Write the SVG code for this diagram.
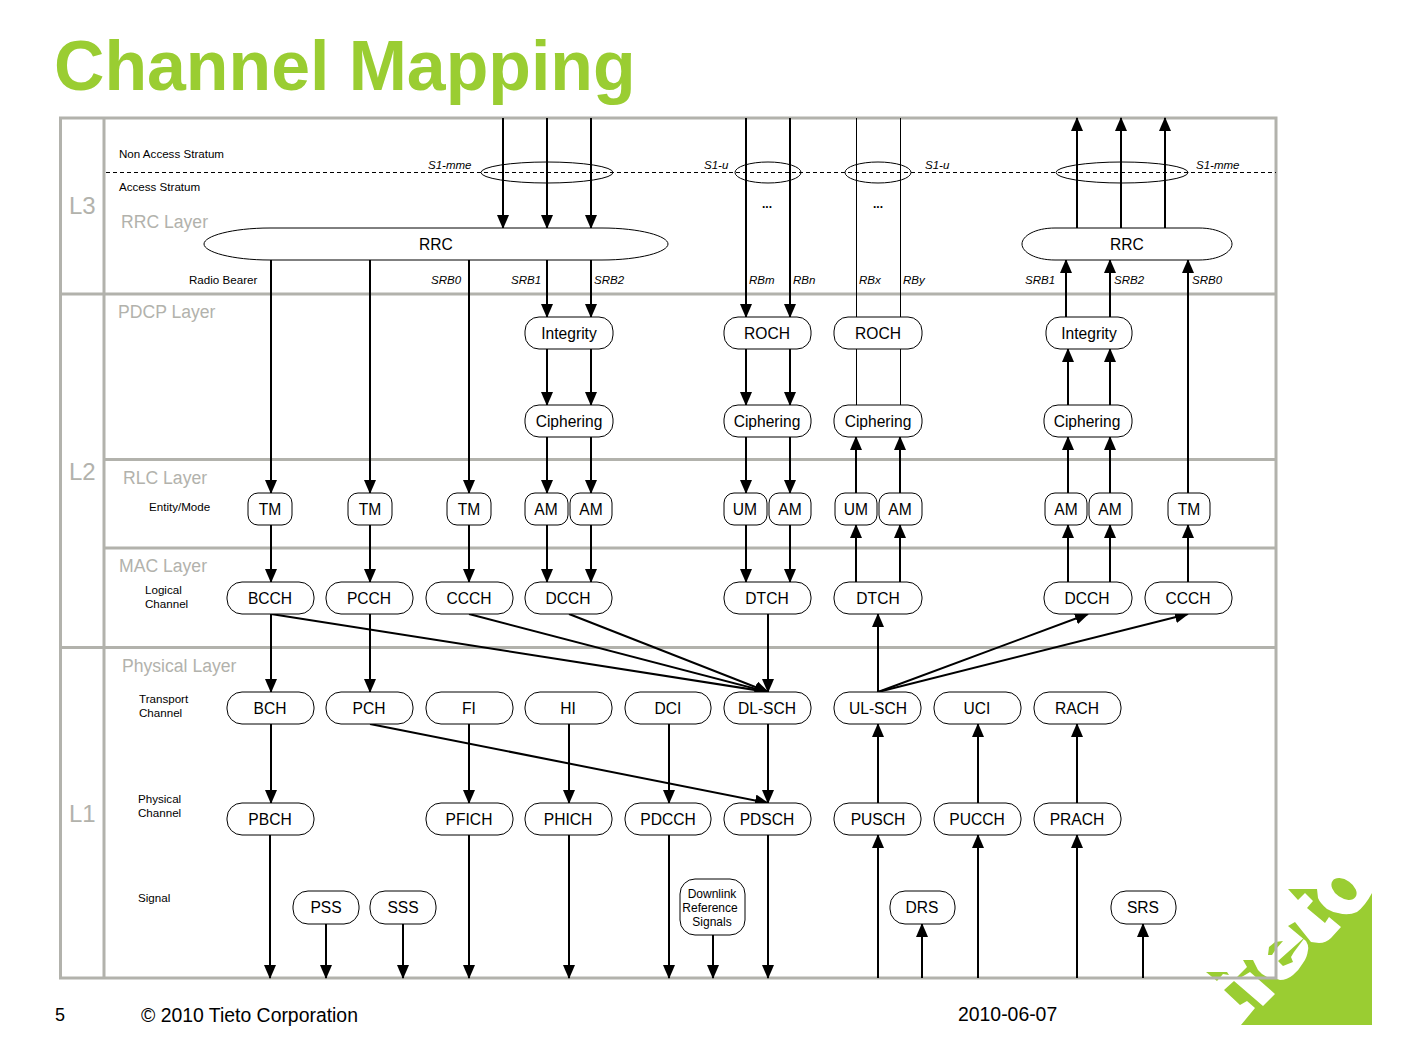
<svg xmlns="http://www.w3.org/2000/svg" width="1403" height="1052" viewBox="0 0 1403 1052">
<style>
text{font-family:"Liberation Sans",Arial,sans-serif;fill:#000}
.n rect,.n path{fill:#fff;stroke:#000;stroke-width:1}
.n text{font-size:15.6px;text-anchor:middle}
.n text.m{font-size:12px}
.f{fill:none;stroke:#b2b2ac;stroke-width:3}
.a{fill:none;stroke:#000;stroke-width:2;marker-end:url(#h)}
.t{fill:none;stroke:#000;stroke-width:1}
.d{fill:none;stroke:#000;stroke-width:1;stroke-dasharray:4 3}
.o{fill:none;stroke:#000;stroke-width:1}
.g{fill:#b2b2ac;font-size:17.6px}
.L{fill:#b2b2ac;font-size:24px}
.s{font-size:11.6px}
.i{font-size:11.500px;font-style:italic}
.c{fill:#9acd32}
.fo{font-size:19.4px}
</style>
<defs>
<marker id="h" markerUnits="userSpaceOnUse" viewBox="0 0 14 12" markerWidth="14" markerHeight="12" refX="13" refY="6" orient="auto"><path d="M0,0L14,6L0,12Z" fill="#000"/></marker>
</defs>
<text x="54" y="90" font-size="69.800" font-weight="700" style="fill:#9acd32">Channel Mapping</text>
<g id="logo" class="c">
<path d="M1241,1025L1372,1025L1372,893Q1365,906 1357,912Q1348,916 1338,913Q1332,912 1327,909Q1320,903 1318,898L1317,889L1288,889L1298,900L1305,893L1313,901L1307,908L1325,923L1329,917L1341,927L1331,938Q1326,943 1319,943L1311,942L1295,922L1288,926L1306,941Q1309,946 1308,950Q1307,958 1303,963Q1299,970 1293,975Q1287,980 1280,980L1277,979Q1272,979 1267,977Q1262,975 1258,970L1253,960L1243,960L1247,967L1237,977L1240,978L1250,972L1275,994L1263,1006L1234,981L1224,990L1240,1005L1247,1001L1255,1008Z"/>
<path d="M1206,972L1227,972L1229,975L1223,974L1217,981Z"/>
<path d="M1278,961L1306,936L1294,952L1291,957L1293,962L1283,966Z"/>
<path d="M1268,955L1269,947L1275,942L1283,941L1276,949L1272,955Z"/>
<ellipse cx="1344" cy="889" rx="14" ry="9" transform="rotate(35 1344 889)"/>
</g>
<g id="frame">
<rect class="f" x="60.5" y="118" width="1215.5" height="860"/>
<path class="f" d="M104,118V978M60,294H1276M104,459.500H1276M104,548H1276M60,647.500H1276"/>
<path class="d" d="M106,172.500H1276"/>
<text class="L" x="69" y="214">L3</text>
<text class="L" x="69" y="480">L2</text>
<text class="L" x="69" y="822">L1</text>
<text class="g" x="121" y="228">RRC Layer</text>
<text class="g" x="118" y="318">PDCP Layer</text>
<text class="g" x="123" y="484">RLC Layer</text>
<text class="g" x="119" y="572">MAC Layer</text>
<text class="g" x="122" y="672">Physical Layer</text>
<text class="s" x="119" y="158">Non Access Stratum</text>
<text class="s" x="119" y="191">Access Stratum</text>
<text class="s" x="189" y="284">Radio Bearer</text>
<text class="s" x="149" y="511">Entity/Mode</text>
<text class="s" x="145" y="594">Logical</text>
<text class="s" x="145" y="608">Channel</text>
<text class="s" x="139" y="703">Transport</text>
<text class="s" x="139" y="717">Channel</text>
<text class="s" x="138" y="803">Physical</text>
<text class="s" x="138" y="817">Channel</text>
<text class="s" x="138" y="902">Signal</text>
<text class="i" x="428" y="169">S1-mme</text>
<text class="i" x="704" y="169">S1-u</text>
<text class="i" x="925" y="169">S1-u</text>
<text class="i" x="1196" y="169">S1-mme</text>
<text class="i" x="431" y="284">SRB0</text>
<text class="i" x="511" y="284">SRB1</text>
<text class="i" x="594" y="284">SRB2</text>
<text class="i" x="749" y="284">RBm</text>
<text class="i" x="793" y="284">RBn</text>
<text class="i" x="859" y="284">RBx</text>
<text class="i" x="903" y="284">RBy</text>
<text class="i" x="1025" y="284">SRB1</text>
<text class="i" x="1114" y="284">SRB2</text>
<text class="i" x="1192" y="284">SRB0</text>
<text x="762" y="208" font-size="12" font-weight="700">...</text>
<text x="873" y="208" font-size="12" font-weight="700">...</text>
</g>
<g id="connectors">
<ellipse class="o" cx="547" cy="172.500" rx="66" ry="10.500"/>
<ellipse class="o" cx="768" cy="172.500" rx="33" ry="10.500"/>
<ellipse class="o" cx="878" cy="172.500" rx="33" ry="10.500"/>
<ellipse class="o" cx="1122" cy="172.500" rx="66" ry="10.500"/>
<path class="a" d="M503,118V228"/><path class="a" d="M547,118V228"/><path class="a" d="M591,118V228"/>
<path class="a" d="M271,260V493"/><path class="a" d="M370,260V493"/><path class="a" d="M469,260V493"/>
<path class="a" d="M547,260V317"/><path class="a" d="M591,260V317"/>
<path class="a" d="M547,349V405"/><path class="a" d="M591,349V405"/>
<path class="a" d="M547,437V493"/><path class="a" d="M591,437V493"/>
<path class="a" d="M547,525V582"/><path class="a" d="M591,525V582"/>
<path class="a" d="M746,118V317"/><path class="a" d="M790,118V317"/>
<path class="a" d="M746,349V405"/><path class="a" d="M790,349V405"/>
<path class="a" d="M746,437V493"/><path class="a" d="M790,437V493"/>
<path class="a" d="M746,525V582"/><path class="a" d="M790,525V582"/>
<path class="t" d="M856.500,118V317M900.500,118V317M856.500,349V405M900.500,349V405"/>
<path class="a" d="M856,493V437"/><path class="a" d="M900,493V437"/>
<path class="a" d="M856,582V525"/><path class="a" d="M900,582V525"/>
<path class="a" d="M1077,228V118"/><path class="a" d="M1121,228V118"/><path class="a" d="M1165,228V118"/>
<path class="a" d="M1066,317V260"/><path class="a" d="M1110,317V260"/><path class="a" d="M1188,493V260"/>
<path class="a" d="M1068,405V349"/><path class="a" d="M1110,405V349"/>
<path class="a" d="M1068,493V437"/><path class="a" d="M1110,493V437"/>
<path class="a" d="M1068,582V525"/><path class="a" d="M1110,582V525"/><path class="a" d="M1188,582V525"/>
<path class="a" d="M271,525V582"/><path class="a" d="M370,525V582"/><path class="a" d="M469,525V582"/>
<path class="a" d="M271,614V692"/><path class="a" d="M370,614V692"/><path class="a" d="M768,614V692"/>
<path class="a" d="M271,614L768,692"/><path class="a" d="M469,614L768,692"/><path class="a" d="M569,614L768,692"/>
<path class="a" d="M878,692V614"/><path class="a" d="M878,692L1088,614"/><path class="a" d="M878,692L1188,614"/>
<path class="a" d="M271,724V803"/><path class="a" d="M469,724V803"/><path class="a" d="M569,724V803"/><path class="a" d="M669,724V803"/><path class="a" d="M768,724V803"/>
<path class="a" d="M370,724L768,803"/>
<path class="a" d="M878,803V724"/><path class="a" d="M978,803V724"/><path class="a" d="M1077,803V724"/>
<path class="a" d="M270,835V978"/><path class="a" d="M469,835V978"/><path class="a" d="M569,835V978"/><path class="a" d="M669,835V978"/><path class="a" d="M768,835V978"/>
<path class="a" d="M326,924V978"/><path class="a" d="M403,924V978"/><path class="a" d="M713,935V978"/>
<path class="a" d="M878,978V835"/><path class="a" d="M978,978V835"/><path class="a" d="M1077,978V835"/>
<path class="a" d="M922,978V924"/><path class="a" d="M1143,978V924"/>
</g>
<g id="rrc1" class="n"><path d="M270,228H602C640,228 668,236 668,244C668,252 640,260 602,260H270C232,260 204,252 204,244C204,236 232,228 270,228Z"/><text x="436" y="250">RRC</text></g>
<g id="rrc2" class="n"><path d="M1055,228H1199C1219,228 1232,236 1232,244C1232,252 1219,260 1199,260H1055C1035,260 1022,252 1022,244C1022,236 1035,228 1055,228Z"/><text x="1127" y="250">RRC</text></g>
<g id="integrity1" class="n"><rect x="525" y="317" width="88" height="32" rx="14"/><text x="569" y="339">Integrity</text></g>
<g id="roch1" class="n"><rect x="724" y="317" width="87" height="32" rx="14"/><text x="767" y="339">ROCH</text></g>
<g id="roch2" class="n"><rect x="834" y="317" width="88" height="32" rx="14"/><text x="878" y="339">ROCH</text></g>
<g id="integrity2" class="n"><rect x="1046" y="317" width="86" height="32" rx="14"/><text x="1089" y="339">Integrity</text></g>
<g id="ciph1" class="n"><rect x="525" y="405" width="88" height="32" rx="14"/><text x="569" y="427">Ciphering</text></g>
<g id="ciph2" class="n"><rect x="724" y="405" width="87" height="32" rx="14"/><text x="767" y="427">Ciphering</text></g>
<g id="ciph3" class="n"><rect x="834" y="405" width="88" height="32" rx="14"/><text x="878" y="427">Ciphering</text></g>
<g id="ciph4" class="n"><rect x="1044" y="405" width="88" height="32" rx="14"/><text x="1087" y="427">Ciphering</text></g>
<g id="tm1" class="n"><rect x="248" y="493" width="44" height="32" rx="10"/><text x="270" y="515">TM</text></g>
<g id="tm2" class="n"><rect x="348" y="493" width="44" height="32" rx="10"/><text x="370" y="515">TM</text></g>
<g id="tm3" class="n"><rect x="447" y="493" width="44" height="32" rx="10"/><text x="469" y="515">TM</text></g>
<g id="am1" class="n"><rect x="525" y="493" width="43" height="32" rx="10"/><text x="546" y="515">AM</text></g>
<g id="am2" class="n"><rect x="570" y="493" width="42" height="32" rx="10"/><text x="591" y="515">AM</text></g>
<g id="um1" class="n"><rect x="724" y="493" width="43" height="32" rx="10"/><text x="745" y="515">UM</text></g>
<g id="am3" class="n"><rect x="769" y="493" width="42" height="32" rx="10"/><text x="790" y="515">AM</text></g>
<g id="um2" class="n"><rect x="835" y="493" width="42" height="32" rx="10"/><text x="856" y="515">UM</text></g>
<g id="am4" class="n"><rect x="879" y="493" width="43" height="32" rx="10"/><text x="900" y="515">AM</text></g>
<g id="am5" class="n"><rect x="1045" y="493" width="42" height="32" rx="10"/><text x="1066" y="515">AM</text></g>
<g id="am6" class="n"><rect x="1089" y="493" width="43" height="32" rx="10"/><text x="1110" y="515">AM</text></g>
<g id="tm4" class="n"><rect x="1168" y="493" width="42" height="32" rx="10"/><text x="1189" y="515">TM</text></g>
<g id="bcch" class="n"><rect x="227" y="582" width="87" height="32" rx="15"/><text x="270" y="604">BCCH</text></g>
<g id="pcch" class="n"><rect x="326" y="582" width="87" height="32" rx="15"/><text x="369" y="604">PCCH</text></g>
<g id="ccch1" class="n"><rect x="426" y="582" width="87" height="32" rx="15"/><text x="469" y="604">CCCH</text></g>
<g id="dcch1" class="n"><rect x="525" y="582" width="87" height="32" rx="15"/><text x="568" y="604">DCCH</text></g>
<g id="dtch1" class="n"><rect x="724" y="582" width="87" height="32" rx="15"/><text x="767" y="604">DTCH</text></g>
<g id="dtch2" class="n"><rect x="834" y="582" width="88" height="32" rx="15"/><text x="878" y="604">DTCH</text></g>
<g id="dcch2" class="n"><rect x="1044" y="582" width="88" height="32" rx="15"/><text x="1087" y="604">DCCH</text></g>
<g id="ccch2" class="n"><rect x="1145" y="582" width="87" height="32" rx="15"/><text x="1188" y="604">CCCH</text></g>
<g id="bch" class="n"><rect x="227" y="692" width="87" height="32" rx="15"/><text x="270" y="714">BCH</text></g>
<g id="pch" class="n"><rect x="326" y="692" width="87" height="32" rx="15"/><text x="369" y="714">PCH</text></g>
<g id="fi" class="n"><rect x="426" y="692" width="87" height="32" rx="15"/><text x="469" y="714">FI</text></g>
<g id="hi" class="n"><rect x="525" y="692" width="87" height="32" rx="15"/><text x="568" y="714">HI</text></g>
<g id="dci" class="n"><rect x="625" y="692" width="86" height="32" rx="15"/><text x="668" y="714">DCI</text></g>
<g id="dlsch" class="n"><rect x="724" y="692" width="87" height="32" rx="15"/><text x="767" y="714">DL-SCH</text></g>
<g id="ulsch" class="n"><rect x="834" y="692" width="87" height="32" rx="15"/><text x="878" y="714">UL-SCH</text></g>
<g id="uci" class="n"><rect x="934" y="692" width="87" height="32" rx="15"/><text x="977" y="714">UCI</text></g>
<g id="rach" class="n"><rect x="1034" y="692" width="87" height="32" rx="15"/><text x="1077" y="714">RACH</text></g>
<g id="pbch" class="n"><rect x="227" y="803" width="87" height="32" rx="15"/><text x="270" y="825">PBCH</text></g>
<g id="pfich" class="n"><rect x="426" y="803" width="87" height="32" rx="15"/><text x="469" y="825">PFICH</text></g>
<g id="phich" class="n"><rect x="525" y="803" width="87" height="32" rx="15"/><text x="568" y="825">PHICH</text></g>
<g id="pdcch" class="n"><rect x="625" y="803" width="86" height="32" rx="15"/><text x="668" y="825">PDCCH</text></g>
<g id="pdsch" class="n"><rect x="724" y="803" width="87" height="32" rx="15"/><text x="767" y="825">PDSCH</text></g>
<g id="pusch" class="n"><rect x="834" y="803" width="87" height="32" rx="15"/><text x="878" y="825">PUSCH</text></g>
<g id="pucch" class="n"><rect x="934" y="803" width="87" height="32" rx="15"/><text x="977" y="825">PUCCH</text></g>
<g id="prach" class="n"><rect x="1034" y="803" width="87" height="32" rx="15"/><text x="1077" y="825">PRACH</text></g>
<g id="pss" class="n"><rect x="293" y="891" width="66" height="33" rx="15"/><text x="326" y="913">PSS</text></g>
<g id="sss" class="n"><rect x="370" y="891" width="66" height="33" rx="15"/><text x="403" y="913">SSS</text></g>
<g id="drs" class="n"><rect x="890" y="891" width="65" height="33" rx="15"/><text x="922" y="913">DRS</text></g>
<g id="srs" class="n"><rect x="1111" y="891" width="65" height="33" rx="15"/><text x="1143" y="913">SRS</text></g>
<g id="drsig" class="n"><rect x="680" y="879" width="65" height="56" rx="15"/><text class="m" x="712" y="898">Downlink</text><text class="m" x="710" y="912">Reference</text><text class="m" x="712" y="926">Signals</text></g>
<g id="footer">
<text style="font-size:18px" x="55" y="1021">5</text>
<text class="fo" x="141" y="1022">© 2010 Tieto Corporation</text>
<text class="fo" x="958" y="1021">2010-06-07</text>
</g>
</svg>
